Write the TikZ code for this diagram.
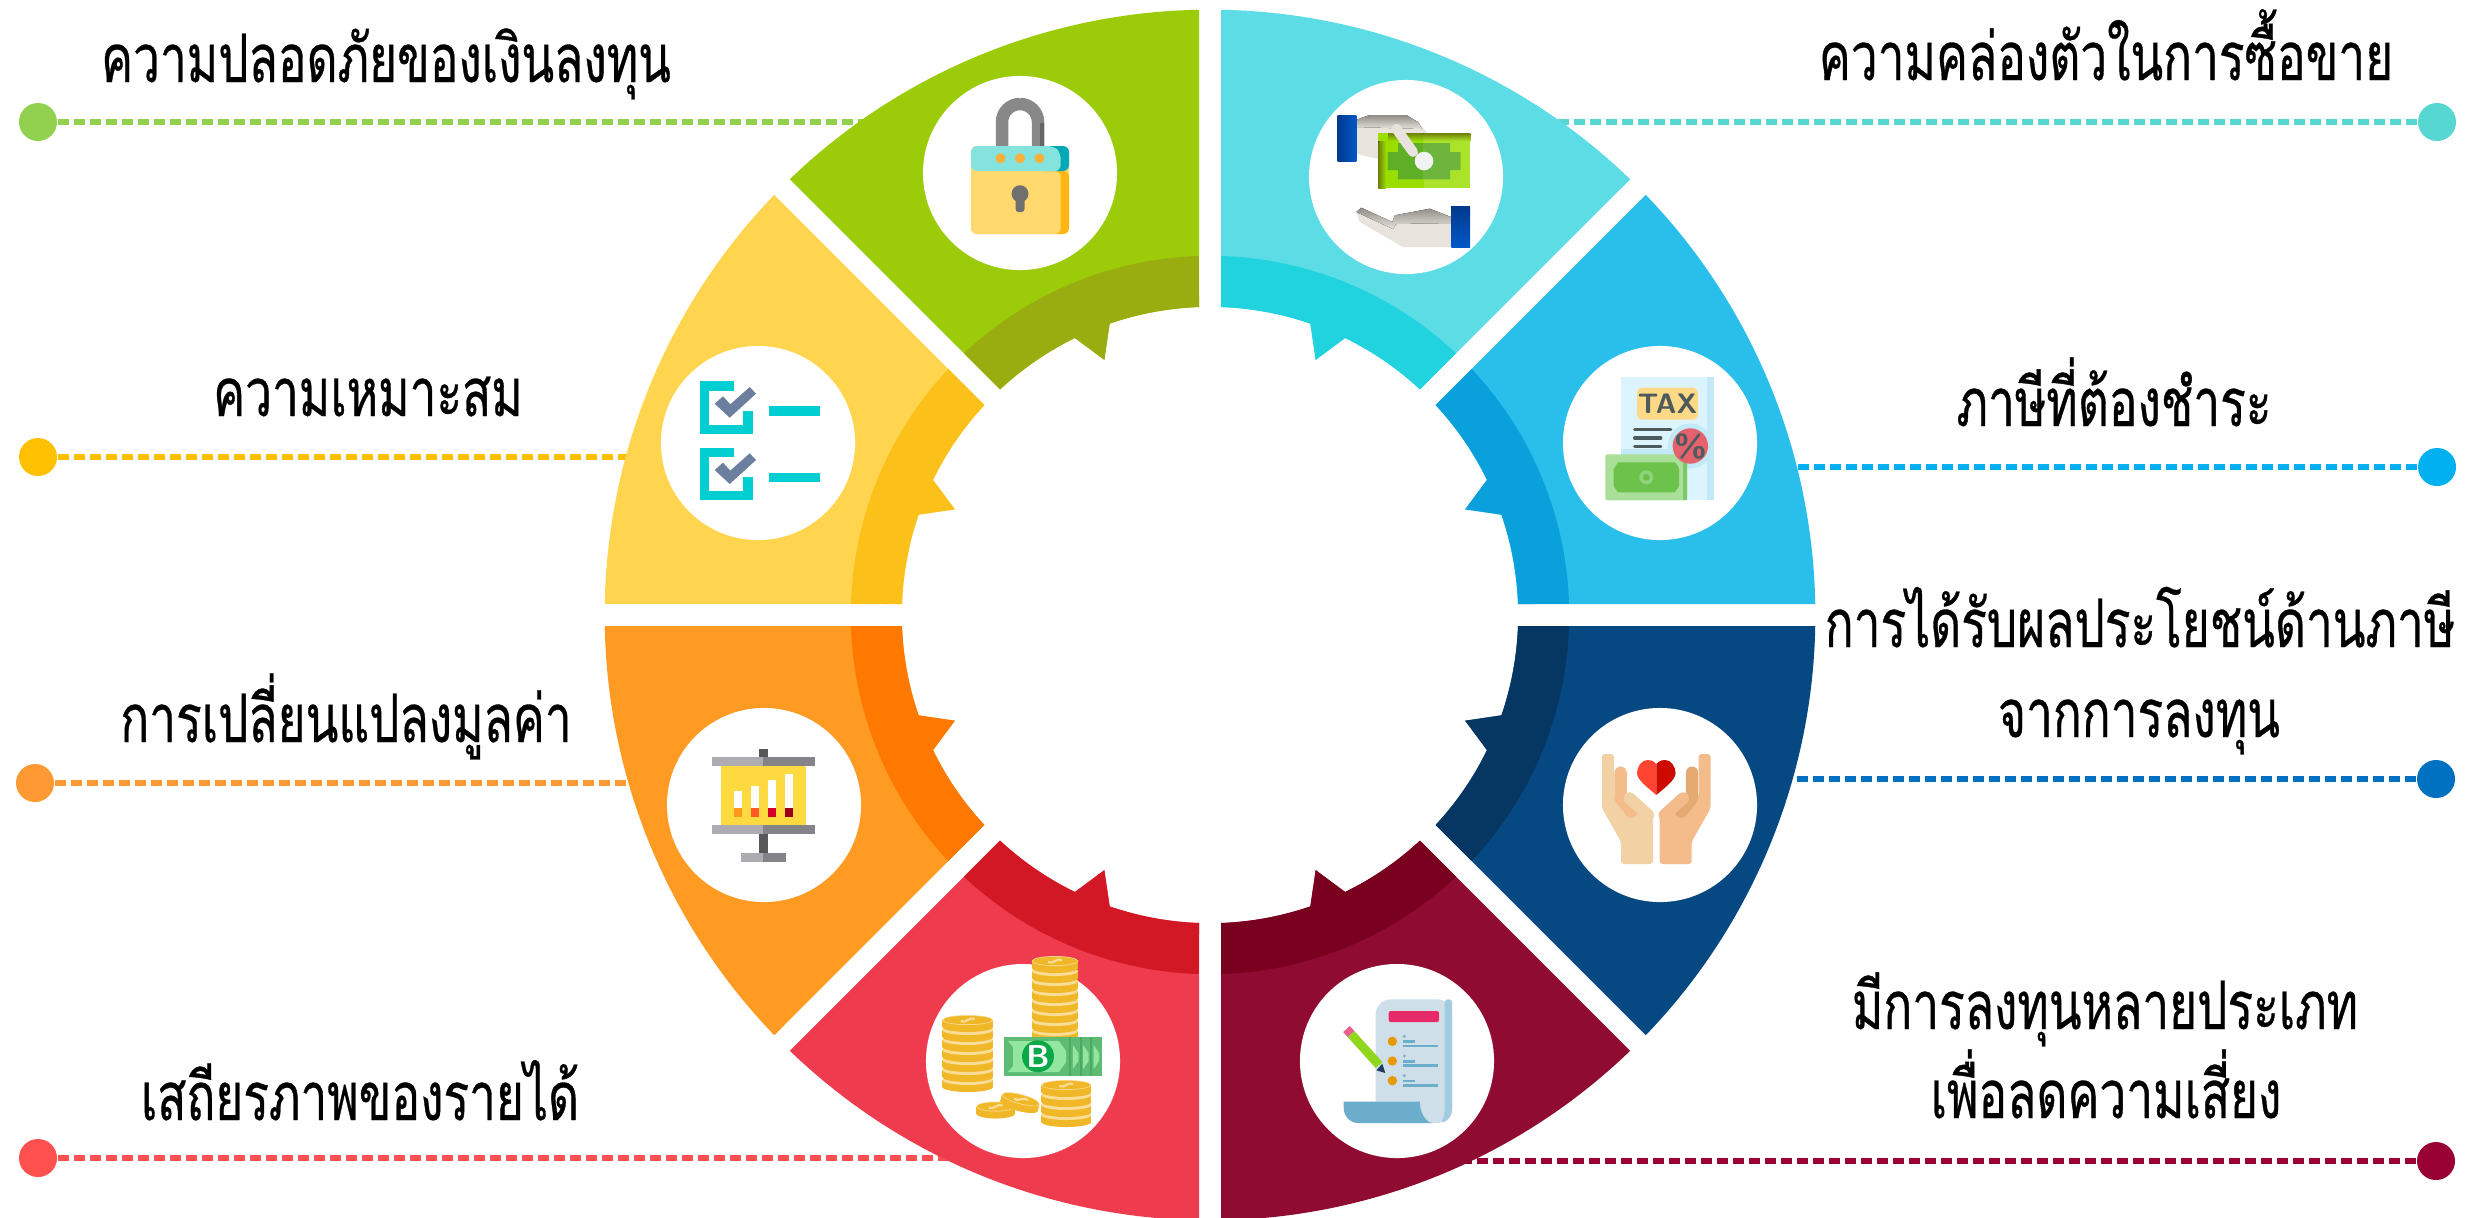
\documentclass[tikz,border=0pt]{standalone}
\usepackage{fontspec}
\newfontfamily\thaifont[Script=Thai,FakeStretch=.715,FakeBold=.5]{Loma}
\definecolor{safelight}{HTML}{9CCB0A}\definecolor{safedark}{HTML}{9AAD10}\definecolor{safedot}{HTML}{92D050}
\definecolor{liquidlight}{HTML}{5CDCE5}\definecolor{liquiddark}{HTML}{20D3DF}\definecolor{liquiddot}{HTML}{57D7D2}
\definecolor{taxlight}{HTML}{2ABEEB}\definecolor{taxdark}{HTML}{09A0DC}\definecolor{taxdot}{HTML}{00B0F0}
\definecolor{gainlight}{HTML}{064882}\definecolor{gaindark}{HTML}{063762}\definecolor{gaindot}{HTML}{0070C0}
\definecolor{mixlight}{HTML}{8F0B31}\definecolor{mixdark}{HTML}{7A0020}\definecolor{mixdot}{HTML}{990033}
\definecolor{incomelight}{HTML}{EE3B4E}\definecolor{incomedark}{HTML}{D21824}\definecolor{incomedot}{HTML}{FF5050}
\definecolor{valuelight}{HTML}{FF9A22}\definecolor{valuedark}{HTML}{FF7900}\definecolor{valuedot}{HTML}{FF9933}
\definecolor{fitlight}{HTML}{FFD550}\definecolor{fitdark}{HTML}{FBC019}\definecolor{fitdot}{HTML}{FFC000}
\definecolor{lockband}{HTML}{84E3DC}\definecolor{lockbandside}{HTML}{00A9B5}\definecolor{lockbody}{HTML}{FFD86E}\definecolor{lockside}{HTML}{FFB612}
\definecolor{lockbolt}{HTML}{FBB03B}\definecolor{lockhook}{HTML}{888888}\definecolor{lockhookside}{HTML}{666666}\definecolor{lockkey}{HTML}{6F6F6F}
\definecolor{handskin}{HTML}{E8E3DD}\definecolor{handedge}{HTML}{8F8C86}
\definecolor{cuffa}{HTML}{003A8C}\definecolor{cuffb}{HTML}{0057C8}
\definecolor{cashleft}{HTML}{9ADE00}\definecolor{cashright}{HTML}{ABE32A}\definecolor{cashedge}{HTML}{6F8008}
\definecolor{cashinleft}{HTML}{5FAE28}\definecolor{cashinright}{HTML}{6DB53C}\definecolor{cashdisc}{HTML}{F0F3F2}
\definecolor{inkgrey}{HTML}{4E5B5C}\definecolor{paperblue}{HTML}{DCF4FE}\definecolor{paperedge}{HTML}{C2E9F5}
\definecolor{taxbadgefill}{HTML}{FFD986}\definecolor{percentred}{HTML}{E5616D}
\definecolor{billpale}{HTML}{A9DF98}\definecolor{billside}{HTML}{7BC86B}\definecolor{billmid}{HTML}{6CC24A}\definecolor{billring}{HTML}{8FD47C}
\definecolor{skina}{HTML}{F2D1A5}\definecolor{skinb}{HTML}{F3BC8A}\definecolor{skinc}{HTML}{E5AA72}
\definecolor{hearta}{HTML}{FF4431}\definecolor{heartb}{HTML}{CC0A00}
\definecolor{sheet}{HTML}{CFDFE9}\definecolor{sheetside}{HTML}{A4CCE1}\definecolor{scrollblue}{HTML}{6BADCB}
\definecolor{titlepink}{HTML}{E62B68}\definecolor{bulletamber}{HTML}{E89800}
\definecolor{pencilgreen}{HTML}{8FD61C}\definecolor{pencilpink}{HTML}{E8608F}\definecolor{penciltip}{HTML}{1F3A5F}
\definecolor{coingold}{HTML}{F0B829}\definecolor{coinpale}{HTML}{F9DC96}
\definecolor{notedge}{HTML}{5DBB73}\definecolor{notepale}{HTML}{92E6A0}\definecolor{notestrip}{HTML}{4CA862}\definecolor{noteseal}{HTML}{0BA84A}
\definecolor{teal}{HTML}{00CED1}\definecolor{slate}{HTML}{6C7F9E}
\definecolor{standa}{HTML}{AEACB2}\definecolor{standb}{HTML}{848388}\definecolor{standc}{HTML}{58585A}
\definecolor{boardyellow}{HTML}{FFD940}\definecolor{bara}{HTML}{FF9A1A}\definecolor{barb}{HTML}{FF5A26}\definecolor{barc}{HTML}{D4002A}\definecolor{bard}{HTML}{9A0018}
\newcommand{\hollow}{-- (47.05:3.08) arc[start angle=47.05,end angle=64,radius=3.08] -- (67.5:2.76) -- (71:3.08) arc[start angle=71,end angle=87.95,radius=3.08] -- cycle}
\newcommand{\petal}[3]{\begin{scope}[shift={(1210,615)},x=1cm,y=1cm,#1]
    \fill[#2] (88.96:6.05) arc[start angle=88.96,end angle=46.04,radius=6.05] \hollow;
    \fill[#3] (88.24:3.59) arc[start angle=88.24,end angle=46.76,radius=3.59] \hollow;
  \end{scope}}
\newcommand{\coinstack}[4]{\foreach \k in {1,...,#3} {
    \fill[coingold] (#1,#2-\k*10+10) ellipse (#4 and 5);
    \fill[coingold] (#1-#4,#2-\k*10+10) rectangle (#1+#4,#2-\k*10+3);
    \fill[coinpale] (#1,#2-\k*10+3) ellipse (#4 and 5);
  }
  \fill[coingold] (#1,#2-#3*10+3) ellipse (#4-1 and 4.2);
  \draw[coinpale,line width=.6pt] (#1-7,#2-#3*10+4) .. controls (#1-2,#2-#3*10+7) and (#1+2,#2-#3*10-1) .. (#1+7,#2-#3*10+2);
}
\begin{document}
\begin{tikzpicture}[x=.01cm,y=-.01cm,
    leader/.style={line width=1.5pt,dash pattern=on 3.3pt off 1.25pt},
    dot/.style={circle,inner sep=0pt,minimum size=.38cm},
    hole/.style={circle,fill=white,inner sep=0pt,minimum size=1.94cm},
    caption/.style={font=\thaifont\fontsize{19}{24}\selectfont,inner sep=0pt,anchor=base,align=center}]
  \clip (0,0) rectangle (2470,1217);
  % end dots and leaders
  \node[dot,fill=safedot] (dotsafe) at (38,122) {};
  \node[dot,fill=fitdot] (dotfit) at (38,457) {};
  \node[dot,fill=valuedot] (dotvalue) at (35,783) {};
  \node[dot,fill=incomedot] (dotincome) at (38,1158) {};
  \node[dot,fill=liquiddot] (dotliquid) at (2437,122) {};
  \node[dot,fill=taxdot] (dottax) at (2437,467) {};
  \node[dot,fill=gaindot] (dotgain) at (2436,779) {};
  \node[dot,fill=mixdot] (dotmix) at (2436,1161) {};
  \coordinate (endsafe) at (870,122);
  \coordinate (endfit) at (635,457);
  \coordinate (endvalue) at (635,783);
  \coordinate (endincome) at (950,1158);
  \coordinate (endliquid) at (1550,122);
  \coordinate (endtax) at (1785,467);
  \coordinate (endgain) at (1780,779);
  \coordinate (endmix) at (1460,1161);
  \draw[leader,safedot] (dotsafe) -- (endsafe);
  \draw[leader,fitdot] (dotfit) -- (endfit);
  \draw[leader,valuedot] (dotvalue) -- (endvalue);
  \draw[leader,incomedot] (dotincome) -- (endincome);
  \draw[leader,liquiddot] (dotliquid) -- (endliquid);
  \draw[leader,taxdot] (dottax) -- (endtax);
  \draw[leader,gaindot] (dotgain) -- (endgain);
  \draw[leader,mixdot] (dotmix) -- (endmix);
  % ring
  \petal{}{liquidlight}{liquiddark}
  \petal{xscale=-1}{safelight}{safedark}
  \petal{cm={0,1,1,0,(0,0)}}{taxlight}{taxdark}
  \petal{xscale=-1,cm={0,1,1,0,(0,0)}}{fitlight}{fitdark}
  \petal{yscale=-1,cm={0,1,1,0,(0,0)}}{gainlight}{gaindark}
  \petal{xscale=-1,yscale=-1,cm={0,1,1,0,(0,0)}}{valuelight}{valuedark}
  \petal{yscale=-1}{mixlight}{mixdark}
  \petal{xscale=-1,yscale=-1}{incomelight}{incomedark}
  \node[hole] (holesafe) at (1020,173) {};
  \node[hole] (holeliquid) at (1406,177) {};
  \node[hole] (holetax) at (1660,443) {};
  \node[hole] (holegain) at (1660,805) {};
  \node[hole] (holemix) at (1397,1061) {};
  \node[hole] (holeincome) at (1023,1061) {};
  \node[hole] (holevalue) at (764,805) {};
  \node[hole] (holefit) at (758,443) {};
  % lock
  \begin{scope}[shift={(holesafe.center)}]
    \draw[lockhook,line width=.125cm,rounded corners=.18cm] (-18,-25) -- (-18,-69) -- (18,-69) -- (18,-25);
    \fill[lockhookside] (20,-50) rectangle (24.3,-27);
    \fill[lockbody,rounded corners=.06cm] (-49,-27) rectangle (49,61);
    \fill[lockside,rounded corners=.06cm] (30,-2) rectangle (49,61);
    \fill[lockbody,rounded corners=.06cm] (-49,-2) rectangle (40.7,61);
    \fill[lockbandside,rounded corners=.06cm] (20,-27) -- (49,-27) -- (49,-2) -- (20,-2) -- cycle;
    \fill[lockband,rounded corners=.06cm] (-49,-2) -- (-49,-27) -- (34,-27) -- (40.7,-20) -- (40.7,-2) -- cycle;
    \foreach \dx in {-19.5,0,19.5} \fill[lockbolt] (\dx,-14.7) circle (5);
    \fill[lockkey] (0,20.7) circle (8.5);
    \fill[lockkey,rounded corners=.03cm] (-4.5,22) rectangle (4.5,39);
  \end{scope}
  % hands and note
  \begin{scope}[shift={(holeliquid.center)}]
    \fill[handskin] (-49.7,-57.3) -- (-36.3,-62) -- (0.3,-62) -- (12,-55) -- (22,-43.3) -- (-29.7,-18.3) -- (-49.7,-23.3) -- cycle;
    \fill[top color=handedge,bottom color=handskin] (-49.7,-57.3) -- (-36.3,-62) -- (0.3,-62) -- (12,-55) -- (16,-48) -- (-49.7,-50) -- cycle;
    \fill[left color=cuffa,right color=cuffb] (-68.3,-62) rectangle (-49.7,-16);
    \fill[cashleft] (-27.7,-44) rectangle (17.7,11);
    \fill[cashright] (17.7,-44) rectangle (64.3,11);
    \fill[top color=cashedge,bottom color=cashleft] (-18,-44) rectangle (17.7,-36);
    \fill[top color=cashedge,bottom color=cashright] (17.7,-44) rectangle (64.3,-36);
    \fill[left color=cashedge,right color=cashleft] (-27.7,-36) rectangle (-20,11);
    \fill[cashinleft] (-18.3,-25) -- (-8,-25) -- (-8,-34) -- (17.7,-34) -- (17.7,2.3) -- (-8,2.3) -- (-8,-7) -- (-18.3,-7) -- cycle;
    \fill[cashinright] (17.7,-34) -- (44,-34) -- (44,-25) -- (54.7,-25) -- (54.7,-7) -- (44,-7) -- (44,2.3) -- (17.7,2.3) -- cycle;
    \fill[cashdisc] (18,-16) circle (9.3);
    \draw[handskin,line width=.1cm,line cap=round] (-9.7,-48.3) -- (7,-25);
    \fill[handskin] (-49.7,35) -- (-44.7,30.7) -- (-13.7,45) -- (-11.3,38.3) -- (23.7,31.7) -- (45,40) -- (45,70) -- (-3,70) -- (-46.3,45) -- cycle;
    \fill[top color=handedge,bottom color=handskin] (-49.7,35) -- (-44.7,30.7) -- (-13.7,45) -- (-11.3,38.3) -- (23.7,31.7) -- (45,40) -- (45,46) -- (-10,47) -- (-13,52) -- cycle;
    \fill[top color=cuffa,bottom color=cuffb] (45.3,29) rectangle (64,70.3);
  \end{scope}
  % tax sheet
  \begin{scope}[shift={(holetax.center)}]
    \fill[paperblue] (-39,-65.7) rectangle (53.7,57.3);
    \fill[paperedge] (47,-65.7) rectangle (53.7,57.3);
    \fill[paperedge] (-39,5.5) rectangle (27,15);
    \fill[paperedge] (30.3,3) circle (22.5);
    \fill[paperblue] (33,25) rectangle (47,57.3);
    \node[fill=taxbadgefill,rounded corners=.05cm,minimum width=.61cm,minimum height=.32cm,inner sep=0pt,font=\sffamily\bfseries\fontsize{8}{8}\selectfont,text=inkgrey] (taxbadge) at (7.5,-39.3) {TAX};
    \foreach \ya/\xb in {-13.3/10.7,-5/.7,3.3/.7} \draw[inkgrey,line width=.035cm,line cap=round] (-25.3,\ya) -- (\xb,\ya);
    \fill[billpale,rounded corners=.02cm] (-54.7,11.3) rectangle (27.3,57.3);
    \fill[billside] (23,11.3) rectangle (27.3,57.3);
    \fill[billmid] (-42,19.3) -- (15,19.3) -- (19,25) -- (19,43) -- (15,49.3) -- (-42,49.3) -- (-46.3,43) -- (-46.3,26) -- cycle;
    \fill[billring] (-13.7,34.3) circle (7);
    \fill[billmid] (-13.7,34.3) circle (3.5);
    \fill[percentred] (30.3,3) circle (17.7);
    \node[inner sep=0pt,font=\sffamily\bfseries\fontsize{9}{9}\selectfont,text=inkgrey] (taxsign) at (30.3,3) {\%};
  \end{scope}
  % hands and heart
  \begin{scope}[shift={(holegain.center)},xshift=-.037cm]
    \foreach \sgn/\skin/\fold in {-1/skina/skinb,1/skinb/skinc} {
      \begin{scope}[xscale=\sgn]
        \fill[\skin,rounded corners=.03cm] (54.3,-51) -- (42.3,-51) -- (42.3,-8.3) -- (26.7,5) -- (30,-8.3) -- (23.3,-11.7) -- (3.3,10) -- (3.3,59) -- (35.3,59) -- (35.3,36.7) -- (54.3,3.3) -- cycle;
        \draw[\fold,line width=.123cm,line cap=round,line join=round] (35.7,-32.3) -- (35.7,-6.7) -- (25,6.7);
        \draw[\skin,line width=.12cm,line cap=round] (26.7,-6.7) -- (8.3,10);
      \end{scope}
    }
    \fill[hearta] (0,-41) .. controls (-4,-45) and (-6,-45) .. (-9,-45) .. controls (-15,-45) and (-19.3,-38) .. (-19.3,-32) .. controls (-19.3,-25) and (-8,-17) .. (0,-10) -- cycle;
    \fill[heartb] (0,-41) .. controls (4,-45) and (6,-45) .. (9,-45) .. controls (15,-45) and (19.3,-38) .. (19.3,-32) .. controls (19.3,-25) and (8,-17) .. (0,-10) -- cycle;
  \end{scope}
  % paper and pencil
  \begin{scope}[shift={(holemix.center)}]
    \fill[sheet,rounded corners=.15cm] (-21.3,-61.7) -- (55,-61.7) -- (55,62) -- (-21.3,62) -- cycle;
    \fill[sheetside,rounded corners=.03cm] (47.7,-61.7) -- (55,-61.7) -- (55,47) .. controls (55,55) and (50,60) .. (44,62) .. controls (47,55) and (47.7,52) .. (47.7,47) -- cycle;
    \fill[titlepink,rounded corners=.02cm] (-8.3,-50) rectangle (42,-39);
    \foreach \dy in {0,19.7,39.3} {
      \fill[bulletamber] (-4.7,-19.7+\dy) circle (4.7);
      \fill[scrollblue] (7.3,-24.7+\dy) circle (1.5);
      \draw[scrollblue,line width=.025cm] (6,-19.3+\dy) -- (18.3,-19.3+\dy);
      \draw[scrollblue,line width=.025cm] (6,-15+\dy) -- (41,-15+\dy);
    }
    \fill[scrollblue] (-53.3,40.7) -- (22.7,40.7) .. controls (23,52) and (29,62) .. (36,62) -- (-39,62) .. controls (-47,62) and (-53.3,55) .. (-53.3,47) -- cycle;
    \draw[pencilgreen,line width=.09cm] (-46,-27) -- (-18,4);
    \draw[pencilpink,line width=.09cm] (-50.5,-32) -- (-46,-27);
    \fill[penciltip] (-20.7,9.3) -- (-14.7,2.7) -- (-11.7,12) -- cycle;
  \end{scope}
  % coins and note
  \begin{scope}[shift={(holeincome.center)}]
    \coinstack{32}{-23}{8}{23.3}
    \coinstack{-55.3}{26}{7}{25.3}
    \coinstack{43.3}{61}{4}{25}
    \coinstack{-27.3}{52.5}{1}{19.5}
    \begin{scope}[shift={(-4,45)},rotate=-15]
      \coinstack{0}{0}{1}{19.5}
    \end{scope}
    \fill[notedge] (-19.3,-24) rectangle (79.3,15.3);
    \fill[notepale] (-15,-20) -- (36,-20) -- (43,-10) -- (43,1) -- (36,11) -- (-15,11) -- (-10,5) -- (-10,-14) -- cycle;
    \foreach \dx in {47.3,57.7,68} {
      \draw[notestrip,line width=.02cm] (\dx,-24) -- (\dx,15.3);
      \fill[notepale] (\dx+2.5,-16) -- (\dx+8,-8) -- (\dx+8,0) -- (\dx+2.5,8) -- cycle;
    }
    \node[circle,fill=noteseal,inner sep=0pt,minimum size=.234cm,text=white,font=\sffamily\bfseries\fontsize{9}{9}\selectfont] (bahtseal) at (15,-4.7) {B};
  \end{scope}
  % chart on a stand
  \begin{scope}[shift={(holevalue.center)}]
    \fill[standc] (-4.7,-56) rectangle (3.7,-47.7);
    \fill[standa] (-51.7,-47.7) rectangle (-.7,-39);
    \fill[standb] (-.7,-47.7) rectangle (50.7,-39);
    \fill[boardyellow] (-43,-39) rectangle (41.7,20);
    \foreach \xa/\ya/\barcol in {-30.3/-13.7/bara,-13.3/-19.3/barb,3.7/-25/barc,20.7/-30.7/bard} {
      \fill[white] (\xa,\ya) rectangle (\xa+8.7,3.3);
      \fill[\barcol] (\xa,3.3) rectangle (\xa+8.7,11.7);
    }
    \fill[standa] (-51.7,20) rectangle (-.7,28.7);
    \fill[standb] (-.7,20) rectangle (50.7,28.7);
    \fill[standc] (-4.7,28.7) rectangle (3.7,48.3);
    \fill[standa] (-23.3,48.3) rectangle (-.7,57);
    \fill[standb] (-.7,48.3) rectangle (22.3,57);
  \end{scope}
  % check list
  \begin{scope}[shift={(holefit.center)}]
    \foreach \dy in {0,66.3} {
      \draw[teal,line width=.093cm,miter limit=10] (-23.7,-57+\dy) -- (-53.7,-57+\dy) -- (-53.7,-13.7+\dy) -- (-10,-13.7+\dy) -- (-10,-32+\dy);
      \fill[slate] (-43.3,-39.3+\dy) -- (-35,-46.7+\dy) -- (-27.7,-38.7+\dy) -- (-8.3,-56+\dy) -- (-2,-49.3+\dy) -- (-28.3,-25.3+\dy) -- cycle;
      \fill[teal] (10.7,-36.7+\dy) rectangle (61.7,-27.3+\dy);
    }
  \end{scope}
  % texts
  \node[caption] (capsafe) at (386,82) {ความปลอดภัยของเงินลงทุน};
  \node[caption] (capfit) at (368,416) {ความเหมาะสม};
  \node[caption] (capvalue) at (346,742) {การเปลี่ยนแปลงมูลค่า};
  \node[caption] (capincome) at (360,1120) {เสถียรภาพของรายได้};
  \node[caption] (capliquid) at (2106,80) {ความคล่องตัวในการซื้อขาย};
  \node[caption] (captax) at (2114,426) {ภาษีที่ต้องชำระ};
  \node[caption] (capgain) at (2140,647) {การได้รับผลประโยชน์ด้านภาษี};
  \node[caption] (capgainb) at (2139,737) {จากการลงทุน};
  \node[caption] (capmix) at (2105,1029) {มีการลงทุนหลายประเภท};
  \node[caption] (capmixb) at (2106,1118) {เพื่อลดความเสี่ยง};
\end{tikzpicture}
\end{document}
